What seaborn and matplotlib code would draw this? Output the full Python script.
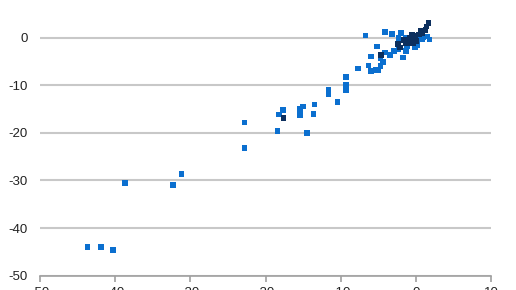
import matplotlib
matplotlib.use("Agg")
import matplotlib.pyplot as plt
import seaborn as sns
import pandas as pd

# Series A (medium blue)
blue_x = [-43.7, -41.9, -40.3, -38.7, -32.3, -31.2, -22.8, -22.8, -18.4, -18.2, -17.7,
          -15.4, -15.0, -15.4, -14.5, -13.5, -13.6, -11.6, -11.6, -10.4, -9.3, -9.3,
          -9.3, -7.7, -6.7, -6.3, -6.0, -6.0, -5.2, -5.3, -5.0, -4.7, -4.4, -4.7,
          -4.1, -4.1, -3.2, -3.4, -2.9, -2.3, -2.0, -2.3, -1.7, -1.3, -1.4, -0.1,
          0.5, 1.0, 1.5, 1.8, 0.8, -1.2, 0.2]
blue_y = [-44.0, -44.0, -44.6, -30.5, -31.0, -28.7, -23.2, -17.8, -19.6, -16.1, -15.2,
          -15.0, -14.5, -16.3, -20.0, -14.0, -16.0, -11.0, -11.9, -13.5, -9.9, -11.0,
          -8.3, -6.5, 0.4, -5.9, -7.0, -4.0, -1.9, -6.8, -6.8, -6.0, -5.1, -4.4,
          -3.1, 1.2, 0.8, -3.6, -2.8, -2.5, 1.0, -0.1, -4.2, -2.8, 0.0, -2.1,
          -0.2, 0.0, 0.2, -0.4, -0.4, -1.8, -1.5]

# Series B (dark navy)
dark_x = [-17.6, -4.6, -2.4, -2.1, 1.7, 1.4, 1.3, 0.7, 0.4, -0.1, -0.3, -0.7, -1.2,
          -1.4, -1.0, -0.4, 0.1, -0.8, 0.9, -1.6, -0.5]
dark_y = [-16.9, -3.6, -1.3, -2.1, 3.1, 2.3, 1.6, 1.4, 0.7, 0.3, -0.4, -0.7, -0.9,
          -1.1, -1.2, -1.2, -0.7, 0.0, 1.0, -0.5, 0.5]

x_ticks = [-50, -40, -30, -20, -10, 0, 10]
y_ticks = [-50, -40, -30, -20, -10, 0]

df = pd.DataFrame({
    "x": blue_x + dark_x,
    "y": blue_y + dark_y,
    "s": ["A"] * len(blue_x) + ["B"] * len(dark_x),
})

sns.set_theme(style="white")
plt.rcParams["font.family"] = ["Liberation Sans", "DejaVu Sans"]
plt.rcParams["axes.unicode_minus"] = False

fig = plt.figure(figsize=(5.16, 2.90), dpi=100)
ax = fig.add_axes([40 / 516, 14.3 / 290, 451 / 516, 285.7 / 290])

sns.scatterplot(data=df, x="x", y="y", hue="s", ax=ax, marker="s", s=16,
                linewidth=0, palette={"A": "#0B6FCF", "B": "#0C2F5E"},
                legend=False, zorder=3)

ax.set_xlim(-50, 10)
ax.set_ylim(-50, 10)
ax.set_xticks(x_ticks)
ax.set_yticks(y_ticks)
ax.set_xlabel("")
ax.set_ylabel("")
ax.yaxis.grid(True, color="#C8C8C8", linewidth=1.5, zorder=0)
ax.xaxis.grid(False)
for side in ["left", "right", "top"]:
    ax.spines[side].set_visible(False)
ax.spines["bottom"].set_color("#A0A0A0")
ax.spines["bottom"].set_linewidth(1.2)
ax.tick_params(axis="x", bottom=True, length=4, width=1.2, color="#A0A0A0",
               labelsize=9.5, labelcolor="#222222", pad=4)
ax.tick_params(axis="y", left=False, length=0, labelsize=9.5, labelcolor="#222222", pad=9)

fig.savefig("out.png", dpi=100)
